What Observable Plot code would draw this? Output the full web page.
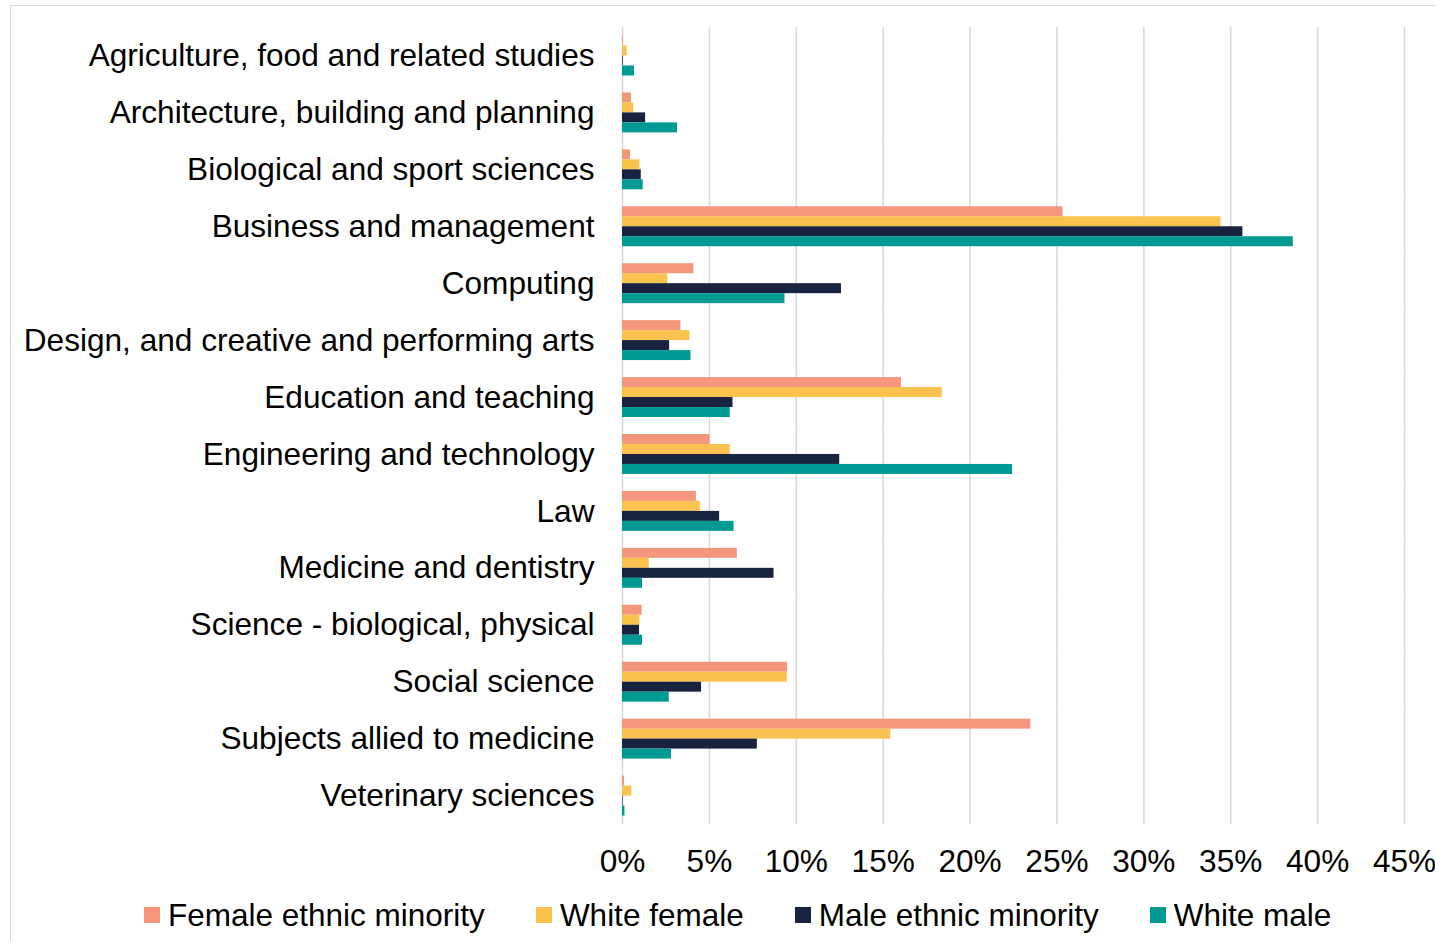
<!DOCTYPE html>
<html>
<head>
<meta charset="utf-8">
<script src="https://cdn.jsdelivr.net/npm/d3@7"></script>
<script src="https://cdn.jsdelivr.net/npm/@observablehq/plot@0.6"></script>
<style>
  html, body { margin: 0; padding: 0; background: #fff; }
  body { position: relative; width: 1435px; height: 942px; overflow: hidden;
         font-family: "Liberation Sans", Arial, sans-serif; color: #000; }
  .frame { position: absolute; left: 10px; top: 5px; width: 1440px; height: 960px;
           border-left: 1px solid #d9d9d9; border-top: 1px solid #d9d9d9; pointer-events: none; }
  #chart svg { display: block; }
  .legend { display: flex; align-items: center; height: 40px; padding-left: 144px;
            font-size: 31.5px; line-height: 40px; }
  .legend .item { display: flex; align-items: center; margin-right: 51px; white-space: nowrap; }
  .legend .swatch { width: 16px; height: 16px; margin-right: 8px; flex: none; }
</style>
</head>
<body>
<div class="frame"></div>
<div id="chart"></div>
<div class="legend" id="legend"></div>
<script>
// Subject areas, top to bottom
const categories = [
  "Agriculture, food and related studies",
  "Architecture, building and planning",
  "Biological and sport sciences",
  "Business and management",
  "Computing",
  "Design, and creative and performing arts",
  "Education and teaching",
  "Engineering and technology",
  "Law",
  "Medicine and dentistry",
  "Science - biological, physical",
  "Social science",
  "Subjects allied to medicine",
  "Veterinary sciences"
];

// Groups shown as bars within each subject
const seriesNames = ["Female ethnic minority", "White female", "Male ethnic minority", "White male"];
const seriesColors = ["#F3967B", "#FCC250", "#18233F", "#009A93"];

// Share of each group by subject (%)
const femaleEthnicMinority = [0.05, 0.52, 0.46, 25.35, 4.11, 3.36, 16.05, 5.03, 4.25, 6.61, 1.13, 9.5, 23.5, 0.12];
const whiteFemale          = [0.27, 0.65, 1.0, 34.45, 2.61, 3.88, 18.4, 6.2, 4.48, 1.54, 1.0, 9.49, 15.44, 0.54];
const maleEthnicMinority   = [0.04, 1.33, 1.08, 35.7, 12.6, 2.71, 6.36, 12.5, 5.59, 8.72, 0.98, 4.55, 7.76, 0.03];
const whiteMale            = [0.69, 3.17, 1.19, 38.6, 9.35, 3.94, 6.2, 22.45, 6.42, 1.15, 1.15, 2.69, 2.82, 0.14];

const xTicks = [0, 5, 10, 15, 20, 25, 30, 35, 40, 45];

const seriesValues = [femaleEthnicMinority, whiteFemale, maleEthnicMinority, whiteMale];
const rows = categories.flatMap((category, i) =>
  seriesNames.map((series, s) => ({category, series, value: seriesValues[s][i]}))
);

const chart = Plot.plot({
  width: 1435,
  height: 895,
  marginLeft: 622,
  marginRight: 31,
  marginTop: 27,
  marginBottom: 71,
  style: {
    fontFamily: "'Liberation Sans', Arial, sans-serif",
    fontSize: "31.6px",
    color: "#000",
    background: "transparent",
    overflow: "visible"
  },
  x: {domain: [0, 45], ticks: xTicks, tickFormat: d => d + "%", label: null, axis: null},
  fy: {domain: categories, padding: 0, round: false, label: null, axis: null},
  y: {domain: seriesNames, paddingInner: 0, paddingOuter: 0.85, round: false, axis: null},
  color: {domain: seriesNames, range: seriesColors},
  marks: [
    Plot.gridX(xTicks, {stroke: "#d9d9d9", strokeOpacity: 1, strokeWidth: 1.6}),
    Plot.barX(rows, {x: "value", y: "series", fy: "category", fill: "series"}),
    Plot.axisX({ticks: xTicks, tickFormat: d => d + "%", tickSize: 0, tickPadding: 25, label: null, fill: "#000"}),
    Plot.axisFy({anchor: "left", tickSize: 0, tickPadding: 28, label: null, fill: "#000"})
  ]
});
document.getElementById("chart").appendChild(chart);

// Legend row under the chart
const legend = d3.select("#legend");
seriesNames.forEach((name, i) => {
  const item = legend.append("div").attr("class", "item");
  item.append("div").attr("class", "swatch").style("background", seriesColors[i]);
  item.append("span").text(name);
});
</script>
</body>
</html>
